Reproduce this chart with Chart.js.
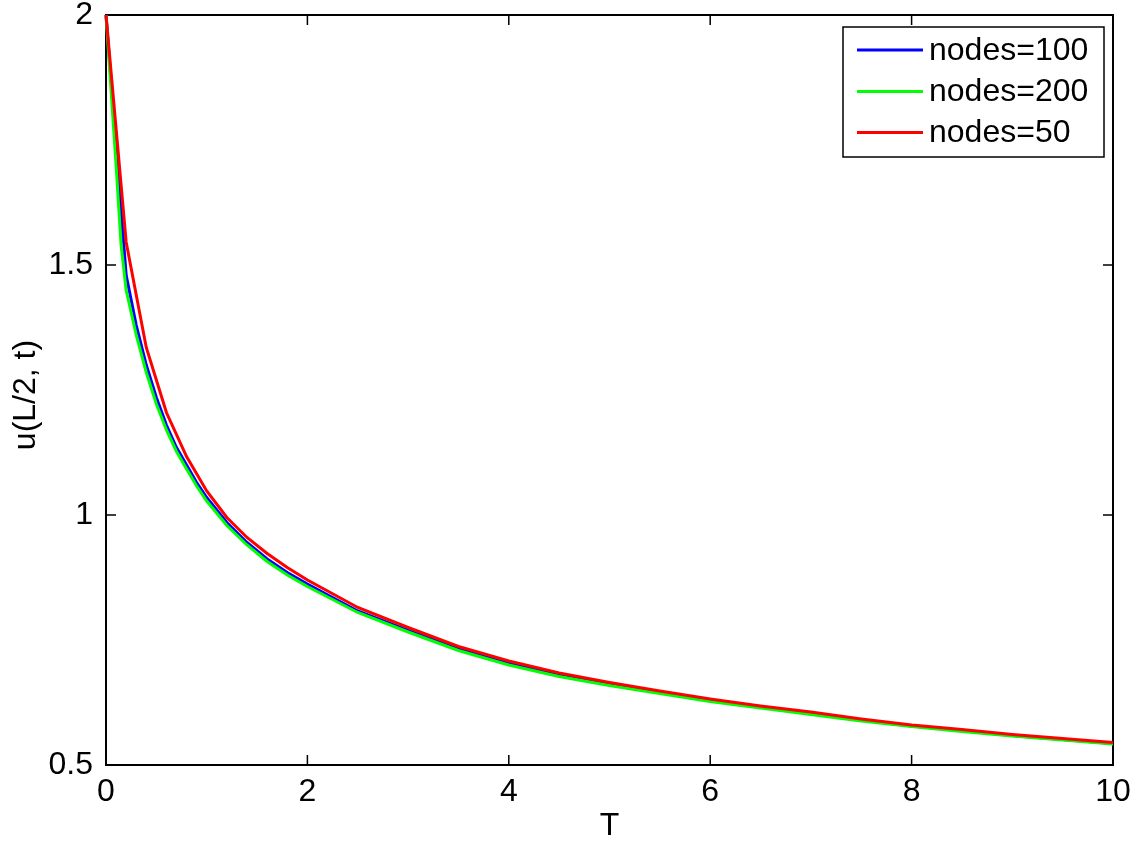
<!DOCTYPE html>
<html lang="en">
<head>
    <meta charset="UTF-8">
    <title>u(L/2, t)</title>
    <style>
        body {
            margin: 0;
            padding: 0;
            background: #ffffff;
        }
        canvas {
            display: block;
        }
    </style>
    <script src="https://cdn.jsdelivr.net/npm/chart.js"></script>
</head>
<body>
    <canvas id="chartCanvas" width="1137" height="843"></canvas>

    <script>
        // time samples
        const tFine = [0, 0.05, 0.1, 0.15, 0.2, 0.3, 0.4, 0.5, 0.6, 0.7, 0.8, 0.9, 1.0, 1.2, 1.4, 1.6, 1.8, 2.0,
            2.5, 3, 3.5, 4, 4.5, 5, 5.5, 6, 6.5, 7, 7.5, 8, 8.5, 9, 9.5, 10];
        const tCoarse = [0, 0.2, 0.4, 0.6, 0.8, 1.0, 1.2, 1.4, 1.6, 1.8, 2.0,
            2.5, 3, 3.5, 4, 4.5, 5, 5.5, 6, 6.5, 7, 7.5, 8, 8.5, 9, 9.5, 10];

        const nodes100 = [2.0, 1.87, 1.745, 1.61, 1.48, 1.38, 1.30, 1.235, 1.18, 1.135, 1.10, 1.065, 1.035,
            0.985, 0.945, 0.912, 0.885, 0.862, 0.808, 0.769, 0.732, 0.703, 0.680, 0.661, 0.645, 0.629,
            0.616, 0.603, 0.590, 0.578, 0.569, 0.559, 0.551, 0.543];
        const nodes200 = [2.0, 1.85, 1.70, 1.54, 1.45, 1.36, 1.285, 1.222, 1.17, 1.127, 1.092, 1.058, 1.028,
            0.979, 0.940, 0.907, 0.880, 0.857, 0.805, 0.766, 0.729, 0.700, 0.677, 0.659, 0.643, 0.627,
            0.614, 0.601, 0.588, 0.577, 0.567, 0.558, 0.550, 0.542];
        const nodes50 = [2.0, 1.546, 1.335, 1.205, 1.117, 1.048, 0.995, 0.955, 0.923, 0.895, 0.870,
            0.815, 0.775, 0.737, 0.708, 0.684, 0.665, 0.648, 0.632, 0.618, 0.606, 0.592, 0.580,
            0.571, 0.561, 0.553, 0.545];

        const seriesLabels = ['nodes=100', 'nodes=200', 'nodes=50'];
        const seriesColors = ['#0000ff', '#00ff00', '#ff0000'];

        const xTicks = [0, 2, 4, 6, 8, 10];
        const yTicks = [0.5, 1, 1.5, 2];

        const FONT = "'Liberation Sans', Arial, sans-serif";
        const FS = 32;
        Chart.defaults.font.family = FONT;
        Chart.defaults.color = '#000';

        function toPoints(xs, ys) {
            return xs.map((x, i) => ({ x: x, y: ys[i] }));
        }

        // matlab style box, inward ticks, axis titles
        const axesBox = {
            id: 'axesBox',
            beforeDatasetsDraw(chart) {
                const ctx = chart.ctx;
                const a = chart.chartArea;
                const xs = chart.scales.x;
                const ys = chart.scales.y;
                const tl = 10;
                ctx.save();
                ctx.strokeStyle = '#000';
                ctx.lineWidth = 2;
                ctx.strokeRect(a.left, a.top, a.right - a.left, a.bottom - a.top);
                ctx.lineWidth = 1.5;
                ctx.beginPath();
                xTicks.forEach(v => {
                    const px = xs.getPixelForValue(v);
                    ctx.moveTo(px, a.bottom); ctx.lineTo(px, a.bottom - tl);
                    ctx.moveTo(px, a.top); ctx.lineTo(px, a.top + tl);
                });
                yTicks.forEach(v => {
                    const py = ys.getPixelForValue(v);
                    ctx.moveTo(a.left, py); ctx.lineTo(a.left + tl, py);
                    ctx.moveTo(a.right, py); ctx.lineTo(a.right - tl, py);
                });
                ctx.stroke();

                ctx.fillStyle = '#000';
                ctx.font = FS + 'px ' + FONT;
                ctx.textAlign = 'center';
                ctx.textBaseline = 'middle';
                ctx.fillText('T', (a.left + a.right) / 2, 826);
                ctx.translate(26, 395);
                ctx.rotate(-Math.PI / 2);
                ctx.fillText('u(L/2, t)', 0, 0);
                ctx.restore();
            },
            afterDraw(chart) {
                // legend box in the upper right corner
                const ctx = chart.ctx;
                const bx = 843, by = 27, bw = 261, bh = 130;
                ctx.save();
                ctx.fillStyle = '#fff';
                ctx.fillRect(bx, by, bw, bh);
                ctx.strokeStyle = '#000';
                ctx.lineWidth = 1.5;
                ctx.strokeRect(bx, by, bw, bh);
                ctx.font = FS + 'px ' + FONT;
                ctx.textAlign = 'left';
                ctx.textBaseline = 'middle';
                const rows = [50, 91.5, 132.5];
                chart.data.datasets.forEach((ds, i) => {
                    ctx.strokeStyle = ds.borderColor;
                    ctx.lineWidth = 3;
                    ctx.beginPath();
                    ctx.moveTo(857, rows[i]);
                    ctx.lineTo(923, rows[i]);
                    ctx.stroke();
                    ctx.fillStyle = '#000';
                    ctx.fillText(ds.label, 929, rows[i] + 1);
                });
                ctx.restore();
            }
        };

        const chart = new Chart(document.getElementById('chartCanvas'), {
            type: 'line',
            data: {
                datasets: [
                    { label: seriesLabels[0], data: toPoints(tFine, nodes100), borderColor: seriesColors[0], order: 3 },
                    { label: seriesLabels[1], data: toPoints(tFine, nodes200), borderColor: seriesColors[1], order: 2 },
                    { label: seriesLabels[2], data: toPoints(tCoarse, nodes50), borderColor: seriesColors[2], order: 1 }
                ]
            },
            options: {
                responsive: false,
                animation: false,
                clip: 4,
                layout: { padding: { left: 0, top: 15, right: 24, bottom: 0 } },
                elements: {
                    line: { borderWidth: 3, tension: 0, fill: false },
                    point: { radius: 0, hoverRadius: 0 }
                },
                plugins: {
                    legend: { display: false },
                    tooltip: { enabled: false }
                },
                scales: {
                    x: {
                        type: 'linear',
                        min: 0,
                        max: 10,
                        grid: { display: false },
                        border: { display: false },
                        ticks: { stepSize: 2, padding: 0, font: { size: FS }, color: '#000', maxRotation: 0 },
                        afterFit(scale) { scale.height = 78; }
                    },
                    y: {
                        min: 0.5,
                        max: 2,
                        grid: { display: false },
                        border: { display: false },
                        ticks: {
                            stepSize: 0.5, padding: 5, font: { size: FS, lineHeight: 0.5 }, color: '#000',
                            callback: v => String(v)
                        },
                        afterFit(scale) { scale.width = 106; }
                    }
                }
            },
            plugins: [axesBox]
        });
    </script>
</body>
</html>
